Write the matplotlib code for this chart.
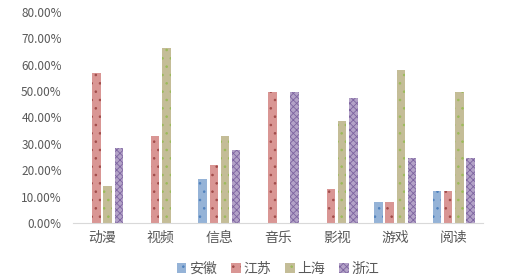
import numpy as np
import matplotlib
matplotlib.use('Agg')
import matplotlib.pyplot as plt
from matplotlib.ticker import PercentFormatter

plt.rcParams['font.family'] = ['Noto Sans CJK SC', 'DejaVu Sans']
plt.rcParams['hatch.linewidth'] = 0.6

categories = ['动漫', '视频', '信息', '音乐', '影视', '游戏', '阅读']
series = ['安徽', '江苏', '上海', '浙江']
anhui = [0, 0, 0.165, 0, 0, 0.08, 0.12]
jiangsu = [0.57, 0.33, 0.22, 0.495, 0.13, 0.08, 0.12]
shanghai = [0.14, 0.665, 0.33, 0, 0.385, 0.58, 0.495]
zhejiang = [0.285, 0, 0.275, 0.495, 0.475, 0.245, 0.245]

colors = ['#95b3d7', '#d99694', '#c4bd97', '#b3a2c7']
hatch_colors = ['#4f81bd', '#a04a48', '#9bbb59', '#7d64a0']
hatches = ['..', '..', '..', 'xxxxx']

fig = plt.figure(figsize=(5.28, 2.79), dpi=100)
ax = fig.add_axes([0.138, 0.201, 0.777, 0.756])

x = np.arange(len(categories))
w = 0.145
step = 0.19
for i, (name, vals) in enumerate(zip(series, [anhui, jiangsu, shanghai, zhejiang])):
    ax.bar(x + (i - 1.5) * step, vals, w, color=colors[i], edgecolor=hatch_colors[i],
           linewidth=0, hatch=hatches[i], label=name)

ax.set_xlim(-0.5, len(categories) - 0.5)
ax.set_ylim(0, 0.8)
ax.set_yticks(np.arange(0, 0.81, 0.1))
ax.yaxis.set_major_formatter(PercentFormatter(1.0, decimals=2))
ax.set_xticks(x)
ax.set_xticklabels(categories)
for s in ['top', 'right', 'left']:
    ax.spines[s].set_visible(False)
ax.spines['bottom'].set_color('#d9d9d9')
ax.tick_params(axis='both', length=0, colors='#595959', labelsize=8.5)
ax.tick_params(axis='y', pad=8)
ax.tick_params(axis='x', pad=6, labelsize=10)

ax.legend(loc='upper center', bbox_to_anchor=(0.5, -0.125), ncol=4, frameon=False,
          fontsize=10, handlelength=0.7, handleheight=0.7, handletextpad=0.2,
          columnspacing=1.0, labelcolor='#595959')

fig.savefig('out.png', dpi=100)
